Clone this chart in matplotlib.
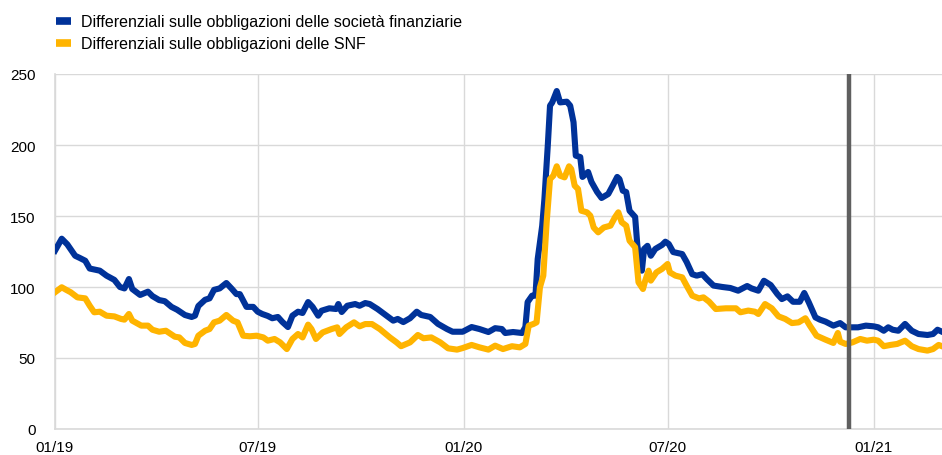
import matplotlib
matplotlib.use("Agg")
import matplotlib.pyplot as plt
import matplotlib.dates as mdates
from matplotlib.lines import Line2D
import numpy as np

plt.rcParams['font.family'] = ['Liberation Sans', 'DejaVu Sans']

fin_dates = [
    "2019-01-01","2019-01-07","2019-01-12","2019-01-19","2019-01-23","2019-01-28","2019-02-01","2019-02-10",
    "2019-02-16","2019-02-23","2019-02-28","2019-03-04","2019-03-08","2019-03-11","2019-03-18","2019-03-25",
    "2019-03-29","2019-04-04","2019-04-09","2019-04-15","2019-04-20","2019-04-27","2019-05-03","2019-05-06",
    "2019-05-09","2019-05-15","2019-05-19","2019-05-23","2019-05-28","2019-06-03","2019-06-08","2019-06-12",
    "2019-06-15","2019-06-21","2019-06-27","2019-07-01","2019-07-05","2019-07-10","2019-07-14","2019-07-19",
    "2019-07-23","2019-07-28","2019-08-01","2019-08-06","2019-08-10","2019-08-15","2019-08-19","2019-08-24",
    "2019-08-27","2019-09-03","2019-09-09","2019-09-11","2019-09-14","2019-09-19","2019-09-26","2019-09-30",
    "2019-10-05","2019-10-09","2019-10-16","2019-10-24","2019-10-30","2019-11-03","2019-11-08","2019-11-14",
    "2019-11-20","2019-11-24","2019-12-02","2019-12-09","2019-12-17","2019-12-22","2019-12-31","2020-01-08",
    "2020-01-15","2020-01-23","2020-01-29","2020-02-04","2020-02-07","2020-02-14","2020-02-22","2020-02-25",
    "2020-02-27","2020-03-02","2020-03-05","2020-03-07","2020-03-11","2020-03-13","2020-03-16","2020-03-18",
    "2020-03-20","2020-03-24","2020-03-27","2020-04-02","2020-04-05","2020-04-08","2020-04-10","2020-04-14",
    "2020-04-16","2020-04-21","2020-04-24","2020-04-29","2020-05-03","2020-05-09","2020-05-13","2020-05-17",
    "2020-05-19","2020-05-22","2020-05-25","2020-05-28","2020-06-02","2020-06-04","2020-06-08","2020-06-10",
    "2020-06-13","2020-06-16","2020-06-20","2020-06-26","2020-06-29","2020-07-02","2020-07-06","2020-07-14",
    "2020-07-18","2020-07-23","2020-07-27","2020-08-01","2020-08-05","2020-08-11","2020-08-19","2020-08-26",
    "2020-09-02","2020-09-10","2020-09-14","2020-09-20","2020-09-25","2020-10-01","2020-10-07","2020-10-11",
    "2020-10-16","2020-10-21","2020-10-27","2020-10-31","2020-11-04","2020-11-10","2020-11-14","2020-11-19",
    "2020-11-26","2020-12-02","2020-12-07","2020-12-13","2020-12-18","2020-12-25","2021-01-01","2021-01-05",
    "2021-01-10","2021-01-14","2021-01-18","2021-01-23","2021-01-29","2021-02-04","2021-02-10","2021-02-18",
    "2021-02-23","2021-02-27","2021-03-03",
]
fin_values = [
    125.6,134,130,122,120.5,118.5,113,111.5,
    108,105,100,99,105.6,98.6,94.4,96.7,
    93.6,90.8,90,86,84,80.3,78.9,79.8,
    86.6,91,92,98,99,102.8,98.6,95,
    95,86,86,82.6,81,79.6,78,78.9,
    75.4,71.8,79.8,82.6,81.7,89.4,86,79.8,
    83.3,85,84.5,88,82.4,86.8,88,86.8,
    88.7,88,84.5,79.8,76.3,77.5,75.3,78,
    82.6,80.3,78.9,74,70.4,68.5,68.5,71.8,
    70.4,68.3,71,70.4,67.6,68.3,67.6,71.8,
    89.4,93.9,93.9,119.7,143,162,199.5,227.7,
    230,238,230,230.5,227.7,216,192.5,191.5,
    177.5,181,174,167,162.7,165.5,171.4,177.5,
    176,167.8,166.9,153.7,149.3,129,111.5,126.8,
    129,122,126.8,129.6,131.9,130.3,124.6,123.2,
    117.6,109,108,109,105.6,101,100,99.3,
    97.4,100.7,99,97.4,104.4,101.4,95,91.5,
    93.4,89.6,89.6,95.8,89.3,78.6,77,75.6,
    72.8,74.6,71.6,71.6,71.6,72.8,72.3,71.6,
    69.2,71.6,69.9,69.2,74,69.2,66.9,66.2,
    66.9,69.9,68.5,
]

snf_dates = [
    "2019-01-01","2019-01-07","2019-01-11","2019-01-15","2019-01-21","2019-01-28","2019-02-01","2019-02-05",
    "2019-02-10","2019-02-16","2019-02-23","2019-03-01","2019-03-04","2019-03-08","2019-03-11","2019-03-19",
    "2019-03-25","2019-03-29","2019-04-04","2019-04-10","2019-04-18","2019-04-22","2019-04-27","2019-05-03",
    "2019-05-06","2019-05-09","2019-05-15","2019-05-19","2019-05-23","2019-05-28","2019-06-03","2019-06-09",
    "2019-06-13","2019-06-18","2019-06-24","2019-06-30","2019-07-06","2019-07-10","2019-07-16","2019-07-21",
    "2019-07-27","2019-08-01","2019-08-06","2019-08-10","2019-08-15","2019-08-18","2019-08-22","2019-08-28",
    "2019-09-05","2019-09-10","2019-09-12","2019-09-18","2019-09-25","2019-09-30","2019-10-05","2019-10-11",
    "2019-10-18","2019-10-27","2019-11-02","2019-11-06","2019-11-14","2019-11-21","2019-11-26","2019-12-03",
    "2019-12-11","2019-12-18","2019-12-26","2019-12-31","2020-01-08","2020-01-15","2020-01-23","2020-01-29",
    "2020-02-05","2020-02-13","2020-02-20","2020-02-25","2020-02-28","2020-03-03","2020-03-06","2020-03-09",
    "2020-03-12","2020-03-15","2020-03-18","2020-03-21","2020-03-24","2020-03-27","2020-03-31","2020-04-04",
    "2020-04-06","2020-04-09","2020-04-12","2020-04-15","2020-04-20","2020-04-23","2020-04-26","2020-04-30",
    "2020-05-05","2020-05-11","2020-05-15","2020-05-18","2020-05-21","2020-05-25","2020-05-28","2020-06-02",
    "2020-06-05","2020-06-09","2020-06-11","2020-06-14","2020-06-16","2020-06-21","2020-06-26","2020-07-01",
    "2020-07-03","2020-07-08","2020-07-14","2020-07-18","2020-07-23","2020-07-29","2020-08-02","2020-08-07",
    "2020-08-13","2020-08-22","2020-08-31","2020-09-04","2020-09-11","2020-09-17","2020-09-20","2020-09-26",
    "2020-10-02","2020-10-08","2020-10-14","2020-10-20","2020-10-26","2020-11-01","2020-11-05","2020-11-11",
    "2020-11-19","2020-11-26","2020-11-30","2020-12-02","2020-12-07","2020-12-13","2020-12-20","2020-12-26",
    "2021-01-01","2021-01-05","2021-01-10","2021-01-16","2021-01-22","2021-01-29","2021-02-04","2021-02-10",
    "2021-02-18","2021-02-23","2021-02-28","2021-03-03",
]
snf_values = [
    96.3,99.8,98,96.3,92.7,92,86.8,82.2,
    82.6,79.8,79.3,77.5,77,81,76.3,72.8,
    72.8,69.9,68.5,69.2,65,64.5,60.6,59.2,
    59.9,65.7,69.2,70.4,75.1,76.3,80.3,76.3,
    75.1,65.7,65.3,65.7,64.5,62.2,63.4,61,
    56.3,63.4,66.9,64.5,73.5,70.4,63.4,68,
    70.4,71.6,66.9,71.6,75.1,72.3,73.9,73.9,
    70.4,64.5,61,58.3,61,66.2,63.9,64.5,
    61,56.8,55.9,57,59.2,57.5,55.9,58.7,
    56.3,58.3,57.5,59.9,72.8,73.9,75.1,99.8,
    108,145.5,176,178.4,185,178.4,177.2,185,
    183,171.4,169,153.7,152.6,150.2,141.9,138.5,
    141.9,143.2,149.1,152.6,145.6,143.2,132.6,128,
    103.3,98.6,104.5,111.5,104.5,110.3,112.7,116.2,
    110.3,108,106.8,100.9,93.9,92,92.7,89.7,
    84.5,85,85,82.2,83.4,82.6,81,88,
    85,79.3,77.5,74.6,75.1,78,72.8,65.7,
    62.9,60.6,67.6,61.5,59.9,61,63.4,62.2,
    62.9,62.2,58.3,59.2,59.9,62.2,58.3,56.3,
    55.2,56.3,59.2,58.3,
]

series_labels = ["Differenziali sulle obbligazioni delle società finanziarie",
                 "Differenziali sulle obbligazioni delle SNF"]
series_colors = ["#003299", "#FFB400"]
marker_date = "2020-12-10"
x_ticks = ["2019-01-01", "2019-07-01", "2020-01-01", "2020-07-01", "2021-01-01"]
x_ticklabels = ["01/19", "07/19", "01/20", "07/20", "01/21"]
y_ticks = [0, 50, 100, 150, 200, 250]

fig = plt.figure(figsize=(9.42, 4.56), dpi=100)
ax = fig.add_axes([55/942, 1-430/456, 1-55/942, (430-75)/456])

fd = np.array(fin_dates, dtype="datetime64[D]")
sd = np.array(snf_dates, dtype="datetime64[D]")
ax.plot(fd, fin_values, color=series_colors[0], lw=4.4, solid_joinstyle="round", zorder=3)
ax.plot(sd, snf_values, color=series_colors[1], lw=4.4, solid_joinstyle="round", zorder=3)
ax.axvline(np.datetime64(marker_date), color="#5f5f5f", lw=3.2, zorder=4)

ax.set_xlim(np.datetime64("2019-01-01"), np.datetime64("2021-03-03"))
ax.set_ylim(0, 250)
ax.set_xticks(np.array(x_ticks, dtype="datetime64[D]"))
ax.set_xticklabels(x_ticklabels)
ax.set_yticks(y_ticks)
ax.grid(True, color="#d9d9d9", lw=1)
ax.set_axisbelow(True)
for s in ["top", "right"]:
    ax.spines[s].set_visible(False)
for s in ["left", "bottom"]:
    ax.spines[s].set_color("#d9d9d9")
    ax.spines[s].set_linewidth(1.2)
ax.tick_params(length=0, labelsize=11, colors="#000000", pad=8)
ax.tick_params(axis="y", pad=14)

handles = [Line2D([], [], color=c, lw=5.5, solid_capstyle="butt") for c in series_colors]
fig.legend(handles, series_labels, loc="upper left", bbox_to_anchor=(45/942, 1 - 4/456),
           frameon=False, fontsize=11.5, handlelength=0.95, handletextpad=0.62,
           labelspacing=0.45, borderaxespad=0.3)

fig.savefig("out.png", dpi=100)
